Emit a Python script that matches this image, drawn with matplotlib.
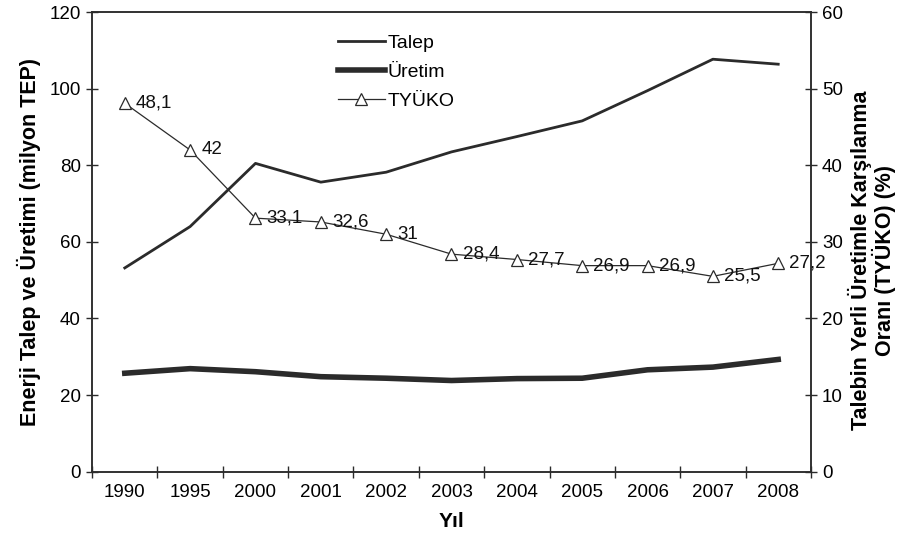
import matplotlib.pyplot as plt
import numpy as np

plt.rcParams['font.family'] = ['Liberation Sans', 'DejaVu Sans']

years = ['1990', '1995', '2000', '2001', '2002', '2003', '2004', '2005', '2006', '2007', '2008']
talep = [53.2, 64.0, 80.5, 75.6, 78.2, 83.5, 87.5, 91.6, 99.5, 107.7, 106.4]
uretim = [25.7, 26.9, 26.1, 24.8, 24.4, 23.8, 24.3, 24.4, 26.6, 27.3, 29.3]
tyuko = [48.1, 42, 33.1, 32.6, 31, 28.4, 27.7, 26.9, 26.9, 25.5, 27.2]

col = '#2b2b2b'
fs = 13.5
x = np.arange(len(years))

fig = plt.figure(figsize=(9.03, 5.51), dpi=100)
ax = fig.add_axes([0.102, 0.144, 0.796, 0.834])
ax2 = ax.twinx()

l1, = ax.plot(x, talep, color=col, lw=2.0, label='Talep')
l2, = ax.plot(x, uretim, color=col, lw=4.0, label='Üretim')
l3, = ax2.plot(x, tyuko, color=col, lw=0.9, marker='^', markersize=9,
               markerfacecolor='white', markeredgecolor=col, markeredgewidth=0.9, label='TYÜKO')

for xi, v in zip(x, tyuko):
    ax2.annotate(f'{v:g}'.replace('.', ','), (xi, v), xytext=(8, 0), textcoords='offset points',
                 ha='left', va='center', fontsize=fs, color='#111111')

ax.set_xlim(-0.5, len(years) - 0.5)
ax.set_ylim(0, 120)
ax2.set_ylim(0, 60)
ax.set_yticks(range(0, 121, 20))
ax2.set_yticks(range(0, 61, 10))

# ticks on category boundaries, labels in the middle
ax.set_xticks(np.arange(-0.5, len(years), 1))
ax.set_xticklabels([])
ax.set_xticks(x, minor=True)
ax.set_xticklabels(years, minor=True, fontsize=fs)
ax.tick_params(axis='x', which='minor', length=0, pad=9)
ax.tick_params(axis='x', which='major', direction='inout', length=8, width=1, color=col)
ax.tick_params(axis='y', direction='inout', length=8, width=1, color=col, labelsize=fs, pad=4)
ax2.tick_params(axis='y', direction='inout', length=8, width=1, color=col, labelsize=fs, pad=4)

for a in (ax, ax2):
    for s in a.spines.values():
        s.set_color(col)
        s.set_linewidth(1.1)

ax.set_ylabel('Enerji Talep ve Üretimi (milyon TEP)', fontsize=15.5, fontweight='bold', labelpad=6)
ax2.set_ylabel('Talebin Yerli Üretimle Karşılanma\nOranı (TYÜKO) (%)', fontsize=15.5,
               fontweight='bold', rotation=90, labelpad=6, linespacing=1.0)
ax2.yaxis.set_label_coords(1.052, 0.46)
ax.set_xlabel('Yıl', fontsize=15, fontweight='bold', labelpad=8)

leg = fig.legend([l1, l2, l3], ['Talep', 'Üretim', 'TYÜKO'], loc='upper left',
                 bbox_to_anchor=(0.355, 0.97), frameon=False, fontsize=14,
                 handlelength=2.4, handletextpad=0.15, labelspacing=0.6)

fig.savefig('out.png', dpi=100)
